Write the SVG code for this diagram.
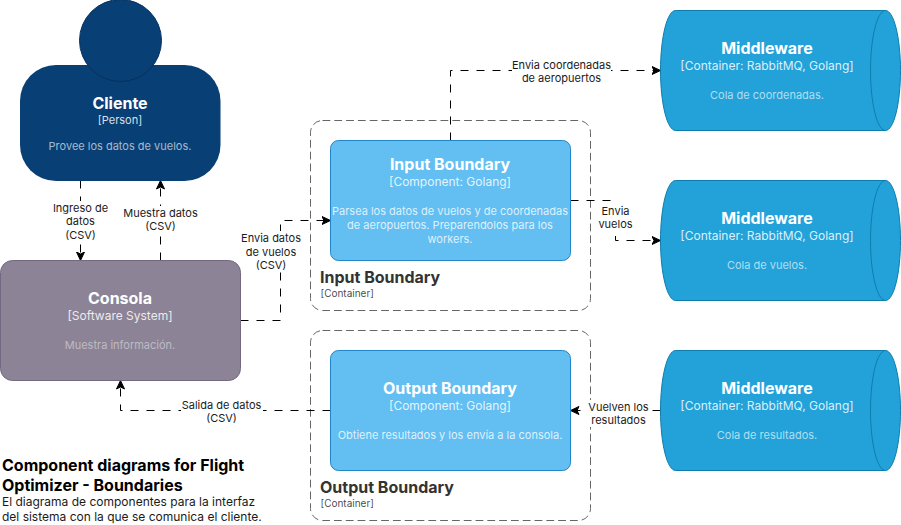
<svg xmlns="http://www.w3.org/2000/svg" width="901" height="525" viewBox="0 0 901 525">
<style>
text{font-family:Inter,"Noto Sans","Liberation Sans",sans-serif;text-anchor:middle}
.t{font-size:16px;font-weight:700;fill:#fff}
.s{font-size:12px;fill:#fff;fill-opacity:.85}
.d{font-size:11px;fill:#fff;fill-opacity:.65}
.dm{font-size:11px;fill:#fff;fill-opacity:.45}
.dc{font-size:11px;fill:#fff;fill-opacity:.8}
.bt{font-size:16px;font-weight:700;fill:#333;text-anchor:start}
.bs{font-size:10px;fill:#333;fill-opacity:.9;text-anchor:start}
.l{font-size:11px;fill:#1a1a1a}
.c{fill:none;stroke:#000;stroke-dasharray:8 8}
.lb{fill:#fff}
.cyl{fill:#23a2d9;stroke:#0e7dad}
.comp{fill:#63bef2;stroke:#2086c9}
.bd{fill:none;stroke:#666;stroke-dasharray:7.8 4}
</style>
<defs>
<marker id="a" markerUnits="userSpaceOnUse" markerWidth="10" markerHeight="10" refX="9" refY="5" orient="auto"><path d="M0.5 1L9 5L0.5 9L2.5 5Z" fill="#000" stroke="#000"/></marker>
</defs>
<g id="boundary-input"><rect class="bd" x="310.5" y="120.5" width="280" height="190" rx="12"/><text class="bt" x="320" y="283">Input Boundary</text><text class="bs" x="320.500" y="297">[Container]</text></g>
<g id="boundary-output"><rect class="bd" x="310.5" y="330.500" width="280" height="190" rx="12"/><text class="bt" x="320" y="493">Output Boundary</text><text class="bs" x="320.500" y="507">[Container]</text></g>
<g id="connectors">
<path class="c" marker-end="url(#a)" d="M80.500 180.500V260.500"/>
<path class="c" marker-end="url(#a)" d="M160.500 260.500V180.500"/>
<path class="c" marker-end="url(#a)" d="M240.500 320.500H280.500V220.500H330.500"/>
<path class="c" marker-end="url(#a)" d="M450.500 140.500V70.500H660.500"/>
<path class="c" marker-end="url(#a)" d="M570.500 200.500H615.500V240.500H660.500"/>
<path class="c" marker-end="url(#a)" d="M660.500 410.500H570.500"/>
<path class="c" marker-end="url(#a)" d="M330.500 410.500H120.500V380.500"/>
</g>
<g id="edge-labels">
<rect class="lb" x="52" y="201" width="57" height="41"/><text class="l" x="80.500" y="212">Ingreso de</text><text class="l" x="80.500" y="225">datos</text><text class="l" x="80.500" y="239">(CSV)</text>
<rect class="lb" x="122" y="206" width="77" height="28"/><text class="l" x="160.500" y="217">Muestra datos</text><text class="l" x="160.500" y="230">(CSV)</text>
<rect class="lb" x="241" y="231" width="61" height="41"/><text class="l" x="271" y="242">Envia datos</text><text class="l" x="271" y="256">de vuelos</text><text class="l" x="271" y="269">(CSV)</text>
<rect class="lb" x="512" y="58" width="99" height="27"/><text class="l" x="561.500" y="69">Envia coordenadas</text><text class="l" x="561.500" y="82">de aeropuertos</text>
<rect class="lb" x="598" y="203" width="36" height="33"/><text class="l" x="615.500" y="215">Envia</text><text class="l" x="615.500" y="228">vuelos</text>
<rect class="lb" x="588" y="400" width="61" height="27"/><text class="l" x="618.500" y="411">Vuelven los</text><text class="l" x="618.500" y="424">resultados</text>
<rect class="lb" x="181" y="398" width="82" height="27"/><text class="l" x="221.500" y="409">Salida de datos</text><text class="l" x="221.500" y="422">(CSV)</text>
</g>
<g id="cliente">
<rect x="20" y="65" width="200.500" height="116" rx="36" fill="#083f75"/>
<circle cx="120.500" cy="40.500" r="41" fill="#083f75" stroke="#06315c"/>
<text class="t" x="120" y="109">Cliente</text><text class="s" x="120" y="124" style="font-size:11px">[Person]</text><text class="d" x="120" y="150">Provee los datos de vuelos.</text>
</g>
<g id="consola">
<rect x="0.500" y="260.500" width="240" height="120" rx="12" fill="#8c8496" stroke="#736782"/>
<text class="t" x="120" y="304">Consola</text><text class="s" x="120" y="320">[Software System]</text><text class="dm" x="120" y="349">Muestra información.</text>
</g>
<g id="input-boundary">
<rect class="comp" x="330.500" y="140.500" width="240" height="120" rx="8"/>
<text class="t" x="450" y="170">Input Boundary</text><text class="s" x="450" y="186">[Component: Golang]</text>
<text class="dc" x="450" y="215">Parsea los datos de vuelos y de coordenadas</text><text class="dc" x="450" y="229">de aeropuertos. Preparendolos para los</text><text class="dc" x="450" y="243">workers.</text>
</g>
<g id="output-boundary">
<rect class="comp" x="330.500" y="350.500" width="240" height="120" rx="8"/>
<text class="t" x="450" y="394">Output Boundary</text><text class="s" x="450" y="410">[Component: Golang]</text><text class="dc" x="450" y="439">Obtiene resultados y los envía a la consola.</text>
</g>
<g id="mw-coordenadas">
<path class="cyl" d="M675.500 10.500H885.500C893.800 10.500 900.500 37.400 900.500 70.500S893.800 130.500 885.500 130.500H675.500C667.200 130.500 660.500 103.600 660.500 70.500S667.200 10.500 675.500 10.500Z"/>
<path class="cyl" fill="none" d="M885.500 10.500C877.200 10.500 870.500 37.400 870.500 70.500S877.200 130.500 885.500 130.500"/>
<text class="t" x="767" y="54">Middleware</text><text class="s" x="767" y="70">[Container: RabbitMQ, Golang]</text><text class="d" x="767" y="99">Cola de coordenadas.</text>
</g>
<g id="mw-vuelos">
<path class="cyl" d="M675.500 180.500H885.500C893.800 180.500 900.500 207.400 900.500 240.500S893.800 300.500 885.500 300.500H675.500C667.200 300.500 660.500 273.600 660.500 240.500S667.200 180.500 675.500 180.500Z"/>
<path class="cyl" fill="none" d="M885.500 180.500C877.200 180.500 870.500 207.400 870.500 240.500S877.200 300.500 885.500 300.500"/>
<text class="t" x="767" y="224">Middleware</text><text class="s" x="767" y="240">[Container: RabbitMQ, Golang]</text><text class="d" x="767" y="269">Cola de vuelos.</text>
</g>
<g id="mw-resultados">
<path class="cyl" d="M675.500 350.500H885.500C893.800 350.500 900.500 377.400 900.500 410.500S893.800 470.500 885.500 470.500H675.500C667.200 470.500 660.500 443.600 660.500 410.500S667.200 350.500 675.500 350.500Z"/>
<path class="cyl" fill="none" d="M885.500 350.500C877.200 350.500 870.500 377.400 870.500 410.500S877.200 470.500 885.500 470.500"/>
<text class="t" x="767" y="394">Middleware</text><text class="s" x="767" y="410">[Container: RabbitMQ, Golang]</text><text class="d" x="767" y="439">Cola de resultados.</text>
</g>
<g id="title">
<text x="2" y="471" style="font-size:16px;font-weight:700;text-anchor:start;fill:#000">Component diagrams for Flight</text>
<text x="2" y="491" style="font-size:16px;font-weight:700;text-anchor:start;fill:#000">Optimizer - Boundaries</text>
<text x="2" y="506" style="font-size:12px;text-anchor:start;fill:#1a1a1a">El diagrama de componentes para la interfaz</text>
<text x="2" y="521" style="font-size:12px;text-anchor:start;fill:#1a1a1a">del sistema con la que se comunica el cliente.</text>
</g>
</svg>
